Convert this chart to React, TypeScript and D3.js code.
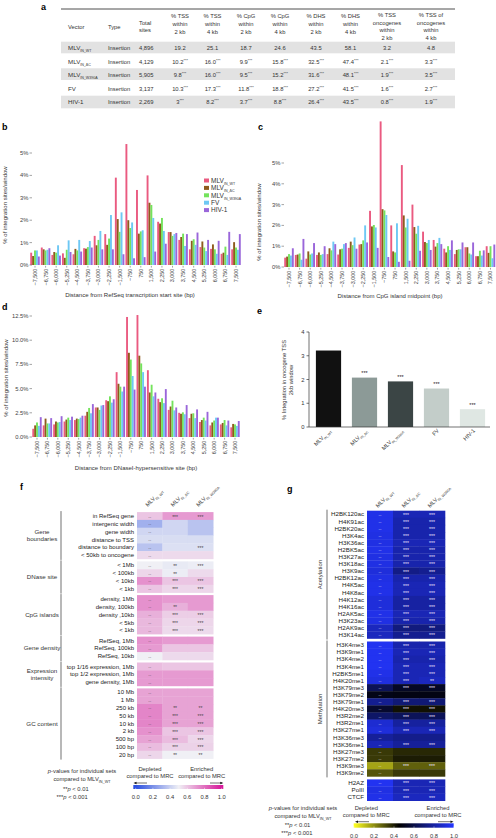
import React from "react";
import * as d3 from "d3";

const FONT = "'Liberation Sans', Arial, Helvetica, sans-serif";

// ---------------- series / legend ----------------
const seriesKeys = ["WT", "dC", "W390A", "FV", "HIV"];
const seriesBase = ["MLV", "MLV", "MLV", "FV", "HIV-1"];
const seriesSub = ["IN_WT", "IN_ΔC", "IN_W390A", "", ""];
const seriesColors = ["#ea5a80", "#8e5b1d", "#74e35c", "#6ec8f4", "#9a66da"];

const distances = [-7500, -6750, -6000, -5250, -4500, -3750, -3000, -2250, -1500, -750, 750, 1500, 2250, 3000, 3750, 4500, 5250, 6000, 6750, 7500];

// ---------------- panel b: RefSeq TSS ----------------
const tssWT = [0.55, 0.78, 0.45, 0.52, 0.48, 0.75, 1.3, 1.38, 3.9, 5.4, 3.35, 4.0, 1.93, 1.47, 1.12, 0.7, 0.8, 0.72, 0.5, 0.7];
const tssDC = [0.4, 0.7, 0.58, 0.32, 0.72, 0.73, 0.88, 0.9, 2.05, 2.0, 1.4, 2.78, 1.85, 1.47, 1.25, 1.08, 1.05, 0.92, 0.55, 1.02];
const tssW390A = [0.65, 0.65, 0.55, 0.68, 0.65, 0.8, 1.12, 1.18, 1.48, 1.65, 1.5, 2.68, 2.1, 1.3, 1.4, 1.15, 0.78, 0.7, 0.82, 0.78];
const tssFV = [0.65, 0.68, 0.88, 1.1, 1.12, 1.07, 1.52, 2.23, 2.35, 1.9, 1.55, 2.1, 1.52, 1.38, 0.85, 0.9, 0.62, 0.5, 0.45, 0.68];
const tssHIV = [0.38, 0.75, 0.42, 0.58, 0.6, 0.78, 0.7, 0.7, 0.48, 0.3, 0.35, 0.6, 0.95, 1.43, 1.38, 1.45, 1.12, 1.08, 1.48, 1.38];

// ---------------- panel c: CpG island ----------------
const cpgWT = [0.45, 0.58, 0.4, 0.58, 0.62, 0.6, 0.92, 1.08, 2.7, 7.0, 2.0, 4.9, 3.0, 1.7, 1.3, 0.88, 0.62, 0.95, 0.52, 1.0];
const cpgDC = [0.5, 0.6, 0.75, 0.7, 0.9, 0.85, 1.22, 1.1, 1.95, 2.78, 0.75, 2.48, 1.92, 1.2, 0.98, 0.7, 0.82, 0.95, 0.52, 0.68];
const cpgW390A = [0.62, 0.65, 0.6, 0.58, 0.8, 0.88, 1.05, 1.28, 2.02, 2.72, 0.7, 1.9, 1.6, 1.15, 1.15, 1.0, 0.85, 0.65, 0.78, 1.0];
const cpgFV = [0.55, 0.35, 0.65, 0.62, 1.22, 1.1, 1.42, 2.0, 1.9, 2.5, 2.1, 2.32, 1.98, 1.3, 1.4, 0.82, 0.85, 0.6, 0.55, 0.42];
const cpgHIV = [0.9, 1.35, 1.15, 1.0, 1.1, 1.15, 0.88, 1.18, 0.92, 0.48, 0.25, 0.3, 0.78, 0.82, 1.1, 1.28, 1.18, 1.18, 0.8, 1.08];

// ---------------- panel d: DNaseI HS ----------------
const dhsWT = [0.85, 1.2, 1.3, 1.6, 1.75, 2.2, 3.05, 3.8, 6.7, 12.4, 12.6, 6.9, 3.95, 2.8, 2.5, 1.95, 1.55, 1.2, 1.3, 1.0];
const dhsDC = [1.2, 1.9, 1.6, 1.8, 1.9, 2.6, 3.05, 3.7, 5.5, 8.7, 8.4, 4.6, 3.6, 3.15, 2.4, 2.4, 1.75, 1.5, 1.45, 1.35];
const dhsW390A = [1.5, 1.4, 1.5, 2.0, 1.85, 3.0, 2.8, 4.2, 5.2, 8.0, 7.6, 5.4, 4.0, 3.75, 2.55, 2.45, 2.0, 1.7, 1.75, 1.3];
const dhsFV = [1.15, 1.4, 1.55, 1.75, 2.0, 2.45, 3.25, 3.55, 4.7, 6.3, 6.7, 4.2, 3.5, 2.75, 2.35, 1.95, 1.7, 2.0, 1.2, 1.15];
const dhsHIV = [2.05, 1.95, 2.15, 2.1, 2.2, 3.4, 3.3, 3.9, 5.2, 4.9, 5.2, 4.6, 4.95, 3.05, 3.3, 2.85, 2.6, 2.0, 1.7, 1.65];

// ---------------- panel e ----------------
const oncoValues = [3.22, 2.08, 1.92, 1.62, 0.75];
const oncoStars = ["", "***", "***", "***", "***"];
const oncoColors = ["#111111", "#8c9a97", "#3b4545", "#c3cdc9", "#dfe7e3"];
const oncoTicks = [0, 1, 2, 3, 4];

// ---------------- panel a: table ----------------
const tableType = ["Insertion", "Insertion", "Insertion", "Insertion", "Insertion"];
const tableTotal = ["4,896", "4,129", "5,905", "3,137", "2,269"];
const tableTss2 = ["19.2", "10.2", "9.8", "10.3", "3"];
const tableTss4 = ["25.1", "16.0", "16.0", "17.3", "8.2"];
const tableCpg2 = ["18.7", "9.9", "9.5", "11.8", "3.7"];
const tableCpg4 = ["24.6", "15.8", "15.2", "18.8", "8.8"];
const tableDhs2 = ["43.5", "32.5", "31.6", "27.2", "26.4"];
const tableDhs4 = ["58.1", "47.4", "48.1", "41.5", "43.5"];
const tableOnc2 = ["3.2", "2.1", "1.9", "1.6", "0.8"];
const tableOnc4 = ["4.8", "3.3", "3.5", "2.7", "1.9"];
const tableSig = ["", "***", "***", "***", "***"];
const tableHeaders = [
  ["% TSS", "within", "2 kb"],
  ["% TSS", "within", "4 kb"],
  ["% CpG", "within", "2 kb"],
  ["% CpG", "within", "4 kb"],
  ["% DHS", "within", "2 kb"],
  ["% DHS", "within", "4 kb"],
  ["% TSS", "oncogenes", "within", "2 kb"],
  ["% TSS of", "oncogenes", "within", "4 kb"],
];

// ---------------- panel f ----------------
const fGroupNames = [["Gene", "boundaries"], ["DNase site"], ["CpG islands"], ["Gene density"], ["Expression", "intensity"], ["GC content"]];
const fGroupSizes = [6, 4, 5, 3, 3, 9];
const fRowLabels = [
  "in RefSeq gene", "intergenic width", "gene width", "distance to TSS", "distance to boundary", "< 50kb to oncogene",
  "< 1Mb", "< 100kb", "< 10kb", "< 1kb",
  "density, 1Mb", "density, 100kb", "density ,10kb", "< 5kb", "< 1kb",
  "RefSeq, 1Mb", "RefSeq, 100kb", "RefSeq, 10kb",
  "top 1/16 expression, 1Mb", "top 1/2 expression, 1Mb", "gene density, 1Mb",
  "10 Mb", "1 Mb", "250 kb", "50 kb", "10 kb", "2 kb", "500 bp", "100 bp", "20 bp",
];
const fWT = [0.6, 0.3, 0.42, 0.44, 0.36, 0.55, 0.5, 0.56, 0.72, 0.6, 0.72, 0.72, 0.65, 0.63, 0.63, 0.72, 0.7, 0.5, 0.62, 0.7, 0.7, 0.68, 0.68, 0.75, 0.75, 0.75, 0.72, 0.68, 0.62, 0.56];
const fDC = [0.7, 0.42, 0.42, 0.44, 0.45, 0.55, 0.48, 0.49, 0.6, 0.56, 0.7, 0.65, 0.58, 0.56, 0.55, 0.7, 0.6, 0.55, 0.6, 0.7, 0.7, 0.68, 0.68, 0.68, 0.68, 0.68, 0.6, 0.62, 0.57, 0.5];
const fW390A = [0.7, 0.36, 0.36, 0.44, 0.45, 0.55, 0.49, 0.55, 0.6, 0.56, 0.7, 0.7, 0.58, 0.56, 0.55, 0.7, 0.6, 0.55, 0.6, 0.7, 0.7, 0.68, 0.68, 0.68, 0.68, 0.68, 0.6, 0.56, 0.57, 0.5];
const fStarsDC = ["***", "", "", "", "", "", "**", "**", "***", "***", "", "**", "***", "***", "***", "", "", "", "", "", "", "", "", "**", "***", "***", "***", "***", "***", "**"];
const fStarsW390A = ["***", "", "", "", "***", "", "***", "", "***", "***", "", "", "***", "***", "***", "", "", "", "", "", "", "", "", "**", "***", "***", "***", "***", "***", "**"];

// ---------------- panel g ----------------
const gGroupNames = ["Acetylation", "Methylation", ""];
const gGroupSizes = [18, 19, 3];
const gRowLabels = [
  "H2BK120ac", "H4K91ac", "H2BK20ac", "H3K4ac", "H3K36ac", "H2BK5ac", "H3K27ac", "H3K18ac", "H3K9ac", "H2BK12ac", "H4K5ac", "H4K8ac", "H4K12ac", "H4K16ac", "H2AK5ac", "H3K23ac", "H2AK9ac", "H3K14ac",
  "H3K4me3", "H3K9me1", "H3K4me2", "H3K4me1", "H2BK5me1", "H4K20me1", "H3K79me3", "H3K79me2", "H3K79me1", "H4K20me3", "H3R2me2", "H3R2me1", "H3K27me1", "H3K36me3", "H3K36me1", "H3K27me3", "H3K27me2", "H3K9me3", "H3K9me2",
  "H2AZ", "PolII", "CTCF",
];
const gWT = [0.95, 0.95, 0.95, 0.94, 0.94, 0.95, 0.94, 0.94, 0.92, 0.94, 0.95, 0.95, 0.92, 0.92, 0.95, 0.94, 0.86, 0.86,
  0.97, 0.97, 0.97, 0.97, 0.95, 0.93, 0.64, 0.5, 0.76, 0.55, 0.67, 0.9, 0.92, 0.78, 0.84, 0.35, 0.35, 0.16, 0.3,
  0.97, 0.94, 0.95];
const gDC = [0.84, 0.82, 0.82, 0.82, 0.84, 0.82, 0.82, 0.82, 0.74, 0.82, 0.84, 0.84, 0.8, 0.8, 0.84, 0.82, 0.72, 0.76,
  0.82, 0.84, 0.82, 0.84, 0.84, 0.84, 0.53, 0.49, 0.7, 0.42, 0.64, 0.79, 0.84, 0.75, 0.78, 0.38, 0.4, 0.28, 0.35,
  0.84, 0.84, 0.86];
const gW390A = [0.84, 0.82, 0.82, 0.82, 0.84, 0.82, 0.82, 0.82, 0.76, 0.82, 0.84, 0.84, 0.8, 0.8, 0.84, 0.82, 0.72, 0.76,
  0.82, 0.84, 0.82, 0.84, 0.84, 0.86, 0.53, 0.49, 0.7, 0.42, 0.64, 0.79, 0.84, 0.75, 0.78, 0.38, 0.4, 0.28, 0.35,
  0.84, 0.84, 0.86];
const gStarsDC = [...Array(18).fill("***"),
  "***", "***", "***", "***", "***", "***", "***", "", "***", "***", "***", "***", "***", "", "***", "", "", "***", "",
  "***", "***", "***"];
const gStarsW390A = [...Array(18).fill("***"),
  "***", "***", "***", "***", "***", "**", "***", "", "***", "***", "***", "***", "***", "", "***", "", "", "***", "",
  "***", "***", "***"];

const legendTicks = [0, 0.2, 0.4, 0.6, 0.8, 1.0];

// ---------------- colour scales ----------------
const fColor = d3.scaleLinear<string>().domain([0, 0.5, 1]).range(["#2b50e0", "#f0f0f5", "#d6199a"]).interpolate(d3.interpolateRgb).clamp(true);
const gColor = d3.scaleLinear<string>().domain([0, 0.45, 1]).range(["#ffff20", "#000000", "#2436ff"]).interpolate(d3.interpolateRgb).clamp(true);

// ---------------- helpers ----------------
function SubLabel({ base, sub, fs, subFs, anchor = "start", transform, x = 0, y = 0, fill = "#333", dy }: any) {
  return (
    <text x={x} y={y} dy={dy} fontSize={fs} textAnchor={anchor} transform={transform} fill={fill}>
      {base}
      {sub ? <tspan fontSize={subFs} dy={fs * 0.3}>{sub}</tspan> : null}
    </text>
  );
}

function BarPanel({ series, c0, c1, yTicks, yFmt, y0, yTop, axisX, ylab, ylabX, ylabY, title, titleX, titleY }: any) {
  const n = distances.length;
  const step = (c1 - c0) / (n - 1);
  const x = d3.scaleBand<string>().domain(distances.map(String)).range([c0 - step / 2, c1 + step / 2]).paddingInner(0.1).paddingOuter(0.05);
  const inner = d3.scaleBand<string>().domain(seriesKeys).range([0, x.bandwidth()]);
  const y = d3.scaleLinear().domain([0, yTicks[yTicks.length - 1]]).range([y0, yTop]);
  const fmt = d3.format(",");
  return (
    <g>
      {series.map((vals: number[], si: number) =>
        vals.map((v, i) => {
          const cat = String(distances[i]);
          return (
            <rect key={si + "-" + i} x={(x(cat) as number) + (inner(seriesKeys[si]) as number)} y={y(v)} width={inner.bandwidth()} height={y0 - y(v)} fill={seriesColors[si]} />
          );
        })
      )}
      {yTicks.map((t: number) => (
        <g key={t}>
          <line x1={axisX - 2.5} x2={axisX} y1={y(t)} y2={y(t)} stroke="#666" strokeWidth={0.6} />
          <text x={axisX - 3.5} y={y(t)} dy="0.35em" textAnchor="end" fontSize={5.8} fill="#444">{yFmt(t)}</text>
        </g>
      ))}
      {distances.map((d) => {
        const cx = (x(String(d)) as number) + x.bandwidth() / 2;
        return (
          <g key={d}>
            <line x1={cx} x2={cx} y1={y0 + 0.8} y2={y0 + 2.6} stroke="#666" strokeWidth={0.6} />
            <text transform={`translate(${cx},${y0 + 3.6}) rotate(-90)`} dy="0.35em" textAnchor="end" fontSize={5.5} fill="#444">{fmt(d)}</text>
          </g>
        );
      })}
      <text transform={`translate(${ylabX},${ylabY}) rotate(-90)`} textAnchor="middle" fontSize={6} fill="#333">{ylab}</text>
      <text x={titleX} y={titleY} textAnchor="middle" fontSize={6} fill="#333">{title}</text>
    </g>
  );
}

function Arrow({ x1, x2, y }: any) {
  const dir = Math.sign(x2 - x1);
  return (
    <g>
      <line x1={x1} x2={x2 - dir * 2} y1={y} y2={y} stroke="#111" strokeWidth={0.6} />
      <polygon points={`${x2},${y} ${x2 - dir * 3},${y - 1.3} ${x2 - dir * 3},${y + 1.3}`} fill="#111" />
    </g>
  );
}

function HeatLegend({ id, color, barX0, barX1, barY, barH, t0, t1, tickY, textX, textY, depX, enrX, hdrY, arrowY, depArrow, enrArrow, starX1, starX2, starY }: any) {
  const stops = d3.range(0, 1.0001, 0.05);
  const tx = d3.scaleLinear().domain([0, 1]).range([t0, t1]);
  return (
    <g fontSize={5.8} fill="#333">
      <defs>
        <linearGradient id={id} x1="0" x2="1" y1="0" y2="0">
          {stops.map((s) => (
            <stop key={s} offset={`${((tx(s) - barX0) / (barX1 - barX0)) * 100}%`} stopColor={color(s)} />
          ))}
        </linearGradient>
      </defs>
      <text x={textX} y={textY} textAnchor="middle"><tspan fontStyle="italic">p</tspan>-values for individual sets</text>
      <text x={textX} y={textY + 8} textAnchor="middle">compared to MLV<tspan fontSize={3.8} dy={1.6}>IN_WT</tspan></text>
      <text x={starX1} y={starY}>**<tspan fontStyle="italic">p</tspan> &lt; 0.01</text>
      <text x={starX2} y={starY + 7.5}>***<tspan fontStyle="italic">p</tspan> &lt; 0.001</text>
      <text x={depX} y={hdrY} textAnchor="middle">Depleted</text>
      <text x={depX} y={hdrY + 7} textAnchor="middle">compared to MRC</text>
      <text x={enrX} y={hdrY} textAnchor="middle">Enriched</text>
      <text x={enrX} y={hdrY + 7} textAnchor="middle">compared to MRC</text>
      <Arrow x1={depArrow[0]} x2={depArrow[1]} y={arrowY} />
      <Arrow x1={enrArrow[0]} x2={enrArrow[1]} y={arrowY} />
      <rect x={barX0} y={barY} width={barX1 - barX0} height={barH} fill={`url(#${id})`} />
      {legendTicks.map((t) => (
        <g key={t}>
          <line x1={tx(t)} x2={tx(t)} y1={barY + barH - 1.2} y2={barY + barH} stroke="#fff" strokeWidth={0.5} />
          <text x={tx(t)} y={tickY} textAnchor="middle">{t.toFixed(1)}</text>
        </g>
      ))}
    </g>
  );
}

function Heatmap({ labels, sizes, groupNames, cols, stars, color, x0, colW, yStart, rowH, gap, labelX, bracketX, groupLabelX, rotated, wtStarColor, starColor, labelFs, headerY }: any) {
  const rows: { top: number; group: number }[] = [];
  let y = yStart;
  const groups: { top: number; bottom: number }[] = [];
  sizes.forEach((s: number, gi: number) => {
    const top = y;
    for (let k = 0; k < s; k++) {
      rows.push({ top: y, group: gi });
      y += rowH;
    }
    groups.push({ top, bottom: y });
    y += gap;
  });
  const colNames = ["IN_WT", "IN_ΔC", "IN_W390A"];
  return (
    <g>
      {cols.map((vals: number[], ci: number) =>
        vals.map((v, ri) => (
          <rect key={ci + "-" + ri} x={x0 + ci * colW} y={rows[ri].top} width={colW + 0.3} height={rowH + 0.3} fill={color(v)} />
        ))
      )}
      {rows.map((r, ri) => (
        <g key={"s" + ri}>
          <text x={x0 + colW / 2} y={r.top + rowH / 2} dy="0.35em" textAnchor="middle" fontSize={4.4} fill={wtStarColor}>--</text>
          {stars.map((st: string[], si: number) =>
            st[ri] ? (
              <text key={si} x={x0 + (si + 1.5) * colW} y={r.top + rowH / 2} dy="0.5em" textAnchor="middle" fontSize={5} fill={starColor}>{st[ri]}</text>
            ) : null
          )}
          <text x={labelX} y={r.top + rowH / 2} dy="0.35em" textAnchor="end" fontSize={labelFs} fill="#222">{labels[ri]}</text>
        </g>
      ))}
      {groups.map((g, gi) => {
        const mid = (g.top + g.bottom) / 2;
        const name = groupNames[gi];
        if (rotated) {
          if (!name) return null;
          return (
            <g key={"g" + gi}>
              <line x1={bracketX} x2={bracketX} y1={g.top - 1} y2={g.bottom + 1} stroke="#333" strokeWidth={0.7} />
              <text transform={`translate(${groupLabelX},${mid}) rotate(-90)`} textAnchor="middle" fontSize={6} fill="#333">{name}</text>
            </g>
          );
        }
        const lines: string[] = name;
        return (
          <g key={"g" + gi}>
            <line x1={bracketX} x2={bracketX} y1={g.top - 1} y2={g.bottom + 1} stroke="#333" strokeWidth={0.7} />
            {lines.map((ln, li) => (
              <text key={li} x={groupLabelX} y={mid + (li - (lines.length - 1) / 2) * 7.5} dy="0.35em" textAnchor="middle" fontSize={6.2} fill="#333">{ln}</text>
            ))}
          </g>
        );
      })}
      {colNames.map((c, ci) => (
        <SubLabel key={c} base="MLV" sub={c} fs={5.6} subFs={3.6} transform={`translate(${x0 + ci * colW + colW / 2 - 2},${headerY}) rotate(-45)`} fill="#333" />
      ))}
    </g>
  );
}

export default function App() {
  const colCenters = [180, 212.5, 246, 280, 316, 350.5, 387, 431];
  const rowY = [47.8, 61.5, 75, 88.8, 102];
  const bandRows = [[41.7, 53.3], [68.3, 80], [95.7, 108.3]];
  const valueCols = [tableTss2, tableTss4, tableCpg2, tableCpg4, tableDhs2, tableDhs4, tableOnc2, tableOnc4];

  const ex = d3.scaleBand<string>().domain(seriesKeys).range([310.5, 490.5]).paddingInner(0.3).paddingOuter(0.15);
  const ey = d3.scaleLinear().domain([0, 4]).range([427, 332]);

  return (
    <svg width={496} height={838} viewBox="0 0 496 838" style={{ position: "absolute", left: 0, top: 0, background: "#fff" }} fontFamily={FONT}>
      <rect x={0} y={0} width={496} height={838} fill="#fff" />
      <g fontWeight="bold" fontSize={9} fill="#000">
        <text x={41} y={10}>a</text>
        <text x={2} y={130}>b</text>
        <text x={258} y={130}>c</text>
        <text x={2} y={310}>d</text>
        <text x={257} y={314}>e</text>
        <text x={20} y={490}>f</text>
        <text x={287} y={492}>g</text>
      </g>

      {/* ---------------- table a ---------------- */}
      <g fill="#333">
        <line x1={61} x2={455} y1={9} y2={9} stroke="#222" strokeWidth={0.8} />
        {bandRows.map((b, i) => (
          <rect key={i} x={61} y={b[0]} width={394} height={b[1] - b[0]} fill="#e2e2e2" />
        ))}
        <text x={68} y={26.7} dy="0.35em" fontSize={5.8}>Vector</text>
        <text x={108} y={26.7} dy="0.35em" fontSize={5.8}>Type</text>
        <text x={139} y={22.5} dy="0.35em" fontSize={5.8}>Total</text>
        <text x={139} y={30} dy="0.35em" fontSize={5.8}>sites</text>
        {tableHeaders.map((h, i) => {
          const ys = h.length === 3 ? [16, 24, 32.3] : [14.7, 22.5, 30.2, 38];
          return h.map((ln, li) => (
            <text key={i + "-" + li} x={colCenters[i]} y={ys[li]} dy="0.35em" textAnchor="middle" fontSize={5.8}>{ln}</text>
          ));
        })}
        {rowY.map((y, r) => (
          <g key={r}>
            <SubLabel x={68} y={y} dy="0.35em" base={seriesBase[r]} sub={seriesSub[r]} fs={6.2} subFs={3.6} fill="#333" />
            <text x={108} y={y} dy="0.35em" fontSize={5.8}>{tableType[r]}</text>
            <text x={139} y={y} dy="0.35em" fontSize={5.8}>{tableTotal[r]}</text>
            {valueCols.map((col, ci) => (
              <text key={ci} x={colCenters[ci]} y={y} dy="0.35em" textAnchor="middle" fontSize={5.8}>
                {col[r]}
                {tableSig[r] ? <tspan fontSize={3.8} dy={-1.8}>{tableSig[r]}</tspan> : null}
              </text>
            ))}
          </g>
        ))}
      </g>

      {/* ---------------- panel b ---------------- */}
      <BarPanel
        series={[tssWT, tssDC, tssW390A, tssFV, tssHIV]}
        c0={35} c1={236} yTicks={[0, 1, 2, 3, 4, 5]} yFmt={(t: number) => t + "%"}
        y0={265} yTop={153} axisX={32}
        ylab="% of integration sites/window" ylabX={7} ylabY={205}
        title="Distance from RefSeq transcription start site (bp)" titleX={130} titleY={297}
      />
      <g>
        {seriesKeys.map((k, i) => (
          <g key={k}>
            <rect x={204} y={178.5 + i * 7.4} width={5} height={4} fill={seriesColors[i]} />
            <SubLabel x={211} y={180.5 + i * 7.4} dy="0.35em" base={seriesBase[i]} sub={seriesSub[i]} fs={6.5} subFs={3.6} fill="#333" />
          </g>
        ))}
      </g>

      {/* ---------------- panel c ---------------- */}
      <BarPanel
        series={[cpgWT, cpgDC, cpgW390A, cpgFV, cpgHIV]}
        c0={289} c1={490.5} yTicks={[0, 1, 2, 3, 4, 5]} yFmt={(t: number) => t + "%"}
        y0={267} yTop={163} axisX={284}
        ylab="% of integration sites/window" ylabX={261} ylabY={222}
        title="Distance from CpG island midpoint (bp)" titleX={390} titleY={298}
      />

      {/* ---------------- panel d ---------------- */}
      <BarPanel
        series={[dhsWT, dhsDC, dhsW390A, dhsFV, dhsHIV]}
        c0={37} c1={235} yTicks={[0, 2.5, 5, 7.5, 10, 12.5]} yFmt={(t: number) => t.toFixed(1) + "%"}
        y0={437} yTop={316} axisX={32}
        ylab="% of integration sites/window" ylabX={8} ylabY={378}
        title="Distance from DNaseI-hypersensitive site (bp)" titleX={136} titleY={470}
      />

      {/* ---------------- panel e ---------------- */}
      <g>
        {oncoValues.map((v, i) => {
          const k = seriesKeys[i];
          const bx = ex(k) as number;
          return (
            <g key={k}>
              <rect x={bx} y={ey(v)} width={ex.bandwidth()} height={ey(0) - ey(v)} fill={oncoColors[i]} />
              {oncoStars[i] ? (
                <text x={bx + ex.bandwidth() / 2} y={ey(v) - 2.2} textAnchor="middle" fontSize={5.5} fill="#222">{oncoStars[i]}</text>
              ) : null}
              <SubLabel base={seriesBase[i]} sub={seriesSub[i]} fs={5.6} subFs={3.4} anchor="end"
                transform={`translate(${bx + ex.bandwidth() / 2 + 3},${431}) rotate(-45)`} fill="#333" />
            </g>
          );
        })}
        <line x1={309} x2={309} y1={ey(4)} y2={ey(0)} stroke="#333" strokeWidth={0.7} />
        <line x1={309} x2={490} y1={ey(0)} y2={ey(0)} stroke="#333" strokeWidth={0.7} />
        {oncoTicks.map((t) => (
          <g key={t}>
            <line x1={306.5} x2={309} y1={ey(t)} y2={ey(t)} stroke="#333" strokeWidth={0.7} />
            <text x={304.5} y={ey(t)} dy="0.35em" textAnchor="end" fontSize={5.8} fill="#333">{t}</text>
          </g>
        ))}
        <text transform="translate(286,380) rotate(-90)" textAnchor="middle" fontSize={5.8} fill="#333">% Integration in oncogene TSS</text>
        <text transform="translate(292.5,380) rotate(-90)" textAnchor="middle" fontSize={5.8} fill="#333">2kb window</text>
      </g>

      {/* ---------------- panel f ---------------- */}
      <Heatmap
        labels={fRowLabels} sizes={fGroupSizes} groupNames={fGroupNames}
        cols={[fWT, fDC, fW390A]} stars={[fStarsDC, fStarsW390A]} color={fColor}
        x0={137} colW={25.4} yStart={512.1} rowH={7.8} gap={2.5}
        labelX={134} bracketX={61} groupLabelX={42} rotated={false}
        wtStarColor="#444" starColor="#444" labelFs={6} headerY={507}
      />
      <HeatLegend id="gradF" color={fColor} barX0={133.3} barX1={223.3} barY={785} barH={4} t0={135.7} t1={221.7}
        tickY={799} textX={82} textY={773} depX={150} enrX={201.7} hdrY={771} arrowY={783}
        depArrow={[147, 133.5]} enrArrow={[210, 223.3]} starX1={63} starX2={56.5} starY={791} />

      {/* ---------------- panel g ---------------- */}
      <Heatmap
        labels={gRowLabels} sizes={gGroupSizes} groupNames={gGroupNames}
        cols={[gWT, gDC, gW390A]} stars={[gStarsDC, gStarsW390A]} color={gColor}
        x0={367} colW={26} yStart={510.7} rowH={7.1} gap={3}
        labelX={364} bracketX={327} groupLabelX={322} rotated={true}
        wtStarColor="#e8e8ff" starColor="#e8e8ff" labelFs={6.2} headerY={508}
      />
      <HeatLegend id="gradG" color={gColor} barX0={353.7} barX1={453.7} barY={823.3} barH={4.4} t0={354} t1={454}
        tickY={837.5} textX={303} textY={810} depX={366.3} enrX={438} hdrY={810} arrowY={821.7}
        depArrow={[369, 355]} enrArrow={[438, 453.5]} starX1={284.7} starX2={281.3} starY={827} />
    </svg>
  );
}
